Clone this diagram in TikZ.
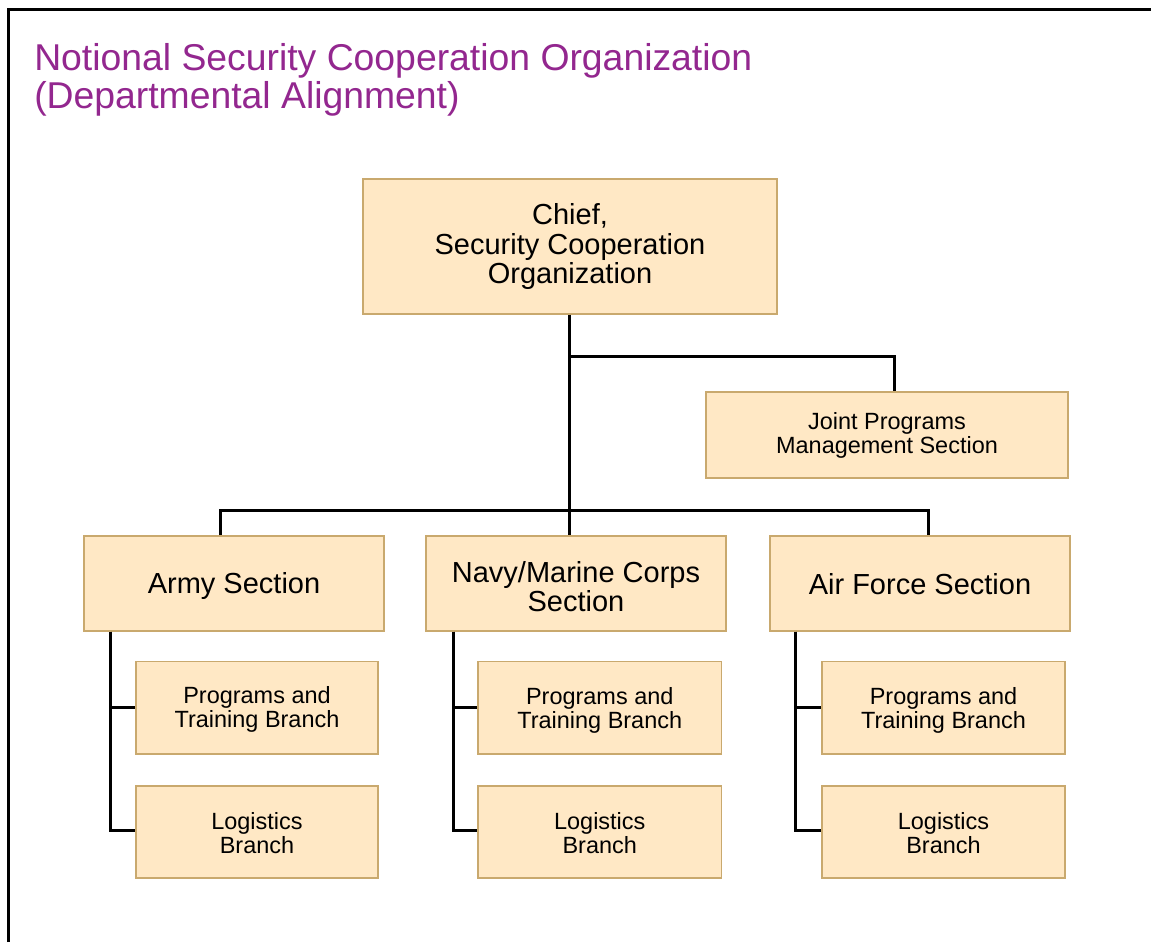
\documentclass[tikz,border=0pt]{standalone}
\usepackage{fontspec}
\setmainfont{Liberation Sans}
\definecolor{boxfill}{RGB}{255,232,197}
\definecolor{boxline}{RGB}{201,169,110}
\definecolor{titlecol}{RGB}{147,39,143}
\newcommand{\lowstrut}[1]{\rule{0pt}{#1em}}
\begin{document}
\begin{tikzpicture}[x=0.75pt,y=-0.75pt,
  box/.style={draw=boxline,fill=boxfill,line width=1.1pt,inner sep=0pt,align=center,text=black},
  bigtext/.style={font=\fontsize{21.75pt}{22pt}\selectfont},
  smalltext/.style={font=\fontsize{17.6pt}{18pt}\selectfont},
  conn/.style={draw=black,line width=2.25pt},
  frame/.style={draw=black,line width=2.25pt},
  titletext/.style={text=titlecol,inner sep=0pt,anchor=base west,font=\fontsize{28pt}{28pt}\selectfont}]
\useasboundingbox (0,0) rectangle (1151,942);
\fill[white] (0,0) rectangle (1151,942);
\draw[frame] (8,942) -- (8,10) -- (1152,10);
\node[titletext] (title1) at (34,70) {Notional Security Cooperation Organization};
\node[titletext] (title2) at (34,108) {(Departmental Alignment)};
% boxes
\node[box,bigtext,minimum width=310.5pt,minimum height=101.25pt] (chief) at (570,246.5) {Chief,\\Security Cooperation\\Organization};
\node[box,smalltext,minimum width=271.5pt,minimum height=64.5pt] (joint) at (887,435) {Joint Programs\\Management Section};
\node[box,bigtext,minimum width=225pt,minimum height=71.25pt] (army) at (234,583.5) {\lowstrut{0.9}Army Section};
\node[box,bigtext,minimum width=225pt,minimum height=71.25pt] (navy) at (576,583.5) {\lowstrut{0.95}Navy/Marine Corps\\Section};
\node[box,bigtext,minimum width=225pt,minimum height=71.25pt] (air) at (920,583.5) {\lowstrut{0.8}Air Force Section};
\node[box,smalltext,minimum width=181.5pt,minimum height=69.4pt] (aprog) at (257,707.75) {\lowstrut{0.9}Programs and\\Training Branch};
\node[box,smalltext,minimum width=182.5pt,minimum height=69.4pt] (nprog) at (599.75,707.75) {\lowstrut{0.95}Programs and\\Training Branch};
\node[box,smalltext,minimum width=182.5pt,minimum height=69.4pt] (fprog) at (943.5,707.75) {\lowstrut{0.95}Programs and\\Training Branch};
\node[box,smalltext,minimum width=181.5pt,minimum height=69pt] (alog) at (257,832) {\lowstrut{0.8}Logistics\\Branch};
\node[box,smalltext,minimum width=182.5pt,minimum height=69pt] (nlog) at (599.75,832) {\lowstrut{0.8}Logistics\\Branch};
\node[box,smalltext,minimum width=182.5pt,minimum height=69pt] (flog) at (943.5,832) {\lowstrut{0.8}Logistics\\Branch};
% connectors
\coordinate (jbranch) at (569,356.5);
\coordinate (busl) at (220,510);
\coordinate (busr) at (928,510);
\draw[conn] ([xshift=-0.75pt]chief.south) -- ([xshift=-0.75pt]chief.south |- navy.north);
\draw[conn] (jbranch) -| ([xshift=5.25pt]joint.north);
\draw[conn] (army.north -| busl) -- (busl) -- (busr) -- (air.north -| busr);
\draw[conn] ([xshift=-93pt]army.south) |- (aprog.west);
\draw[conn] ([xshift=-93pt]army.south) |- ([yshift=0.9pt]alog.west);
\draw[conn] ([xshift=-92.25pt]navy.south) |- (nprog.west);
\draw[conn] ([xshift=-92.25pt]navy.south) |- ([yshift=0.9pt]nlog.west);
\draw[conn] ([xshift=-93.75pt]air.south) |- (fprog.west);
\draw[conn] ([xshift=-93.75pt]air.south) |- ([yshift=0.9pt]flog.west);
\end{tikzpicture}
\end{document}
